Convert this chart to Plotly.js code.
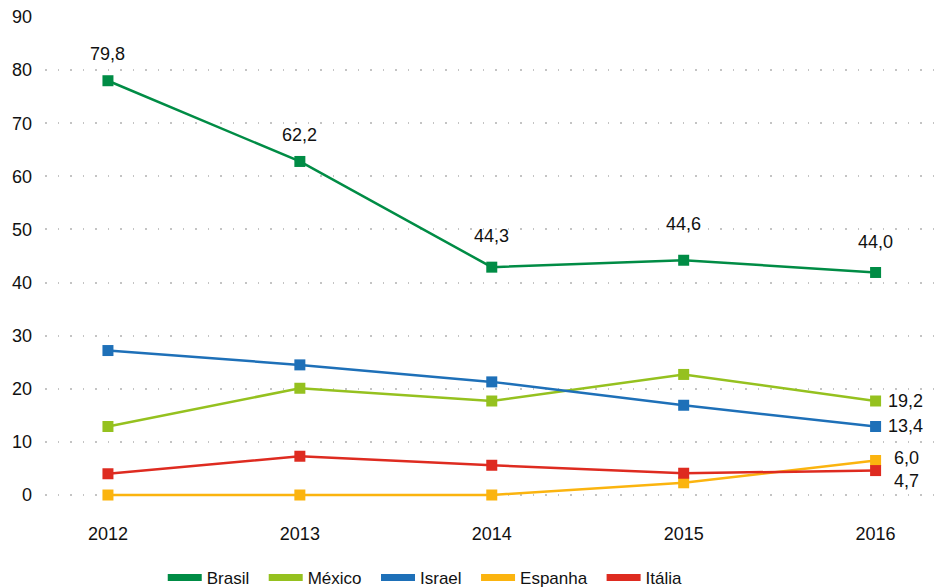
<!DOCTYPE html>
<html>
<head>
<meta charset="utf-8">
<script src="https://cdn.plot.ly/plotly-3.0.1.min.js"></script>
<style>
  html, body { margin: 0; padding: 0; background: #fff; }
  #graph { width: 937px; height: 588px; }
</style>
</head>
<body>
<div id="graph"></div>
<script>
var years = ['2012', '2013', '2014', '2015', '2016'];
var brasil  = [78.0, 62.8, 42.9, 44.2, 41.9];
var mexico  = [12.9, 20.1, 17.7, 22.7, 17.7];
var israel  = [27.2, 24.5, 21.3, 16.9, 12.9];
var espanha = [0, 0, 0, 2.3, 6.5];
var italia  = [4.0, 7.3, 5.6, 4.1, 4.6];

// labels printed on the chart
var brasilLabels = ['79,8', '62,2', '44,3', '44,6', '44,0'];
var endNames  = ['México', 'Israel', 'Espanha', 'Itália'];
var endLabels = ['19,2', '13,4', '6,0', '4,7'];

var names  = ['Brasil', 'México', 'Israel', 'Espanha', 'Itália'];
var series = [brasil, mexico, israel, espanha, italia];
var colors = ['#008c45', '#95c11f', '#1e70b8', '#fbb40f', '#de2b20'];

var data = [];
// visible lines
for (var i = 0; i < names.length; i++) {
  data.push({
    x: years,
    y: series[i],
    name: names[i],
    type: 'scatter',
    mode: 'lines+markers',
    line: {color: colors[i], width: 2.5},
    marker: {color: colors[i], size: 11, symbol: 'square'},
    cliponaxis: false,
    showlegend: false,
    hoverinfo: 'x+y+name'
  });
}
// legend entries (thick bars), a little extra room after each name
for (var i = 0; i < names.length; i++) {
  data.push({
    x: [years[0]],
    y: [null],
    name: names[i] + '\u00a0\u00a0',
    type: 'scatter',
    mode: 'lines',
    line: {color: colors[i], width: 7},
    hoverinfo: 'skip'
  });
}

var labelFont = {family: 'Liberation Sans, Arial, sans-serif', size: 18, color: '#111'};
var annotations = [];
// px above the marker for each Brasil label
var brasilShift = [27, 26, 31, 36, 30];
for (var j = 0; j < years.length; j++) {
  annotations.push({
    xref: 'x', yref: 'y',
    x: j, y: brasil[j], text: brasilLabels[j],
    showarrow: false, yshift: brasilShift[j],
    font: labelFont
  });
}
// offsets of the end labels, in px: [x, y]
var endShift = [[10, 0], [10, 0], [16, 2], [16, -10]];
var last = years.length - 1;
for (var k = 0; k < endNames.length; k++) {
  var idx = names.indexOf(endNames[k]);
  annotations.push({
    xref: 'x', yref: 'y',
    x: last, y: series[idx][last], text: endLabels[k],
    showarrow: false, xanchor: 'left',
    xshift: endShift[k][0], yshift: endShift[k][1],
    font: labelFont
  });
}

var layout = {
  width: 937,
  height: 588,
  margin: {l: 45, r: 0, t: 17, b: 88},
  paper_bgcolor: '#fff',
  plot_bgcolor: '#fff',
  font: {family: 'Liberation Sans, Arial, sans-serif', size: 18, color: '#111'},
  xaxis: {
    type: 'category',
    range: [-0.328, 4.32],
    showgrid: false,
    zeroline: false,
    showline: false,
    ticks: '',
    ticklabelstandoff: 21,
    tickfont: {size: 18}
  },
  yaxis: {
    range: [-0.94, 90],
    tickvals: [0, 10, 20, 30, 40, 50, 60, 70, 80, 90],
    showgrid: true,
    gridcolor: '#c4c4c4',
    gridwidth: 1.5,
    griddash: '1.5px,11px',
    zeroline: false,
    showline: false,
    ticks: '',
    ticklabelstandoff: 12,
    tickfont: {size: 18}
  },
  showlegend: true,
  legend: {
    orientation: 'h',
    xref: 'paper',
    x: 0.132,
    xanchor: 'left',
    yref: 'container',
    y: 0.017,
    yanchor: 'middle',
    font: {family: 'Liberation Sans, Arial, sans-serif', size: 17, color: '#111'},
    itemwidth: 34
  },
  annotations: annotations
};

Plotly.newPlot('graph', data, layout, {displayModeBar: false});
</script>
</body>
</html>
